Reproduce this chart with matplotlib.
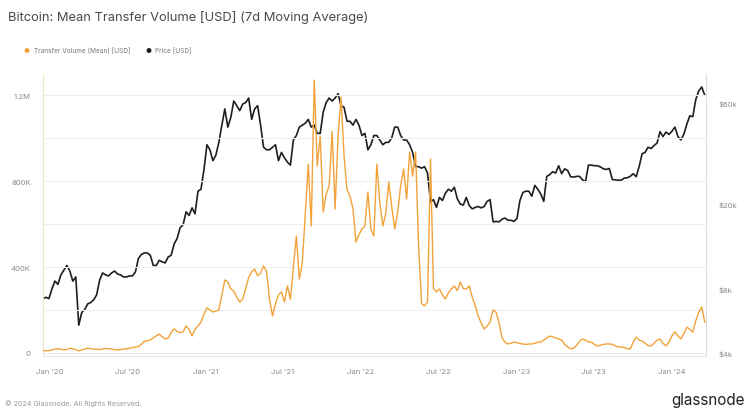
import numpy as np
import pandas as pd
import matplotlib
matplotlib.use("Agg")
import matplotlib.pyplot as plt
from matplotlib.ticker import FixedLocator, NullFormatter

# ── data (weekly) ─────────────────────────────────────────
START = "2019-12-16"

price_usd = [
    7200, 7300, 7200,
    # 2020
    8000, 8700, 8400, 9300, 9800, 10300, 9700, 8700, 9100, 5400, 6200, 6400, 6800,
    6900, 7100, 7500, 8800, 9500, 9300, 9200, 9500, 9700, 9400, 9300, 9100, 9100,
    9200, 9200, 9600, 11100, 11600, 11800, 11800, 11500, 10300, 10300, 10900, 10700,
    10600, 11300, 11500, 13000, 13800, 15500, 16000, 18400, 17700, 19200, 18000,
    23000, 23500, 29000,
    # 2021
    38000, 36000, 32000, 34000, 39000, 47000, 56000, 46000, 51000, 61000, 58000,
    55000, 59000, 60000, 63000, 50000, 56000, 58000, 47000, 37000, 36000, 36000,
    37000, 38000, 32000, 35000, 33000, 31500, 30500, 40000, 42000, 46000, 47000,
    48000, 50000, 46000, 47000, 43000, 43000, 54000, 60000, 63000, 61000, 63000,
    66000, 58000, 57000, 49000, 49000, 47000, 50000, 47000,
    # 2022
    42000, 43000, 36000, 38000, 42000, 42000, 40000, 38000, 39000, 39000, 41000,
    46000, 46000, 42000, 40000, 40000, 38000, 35000, 30000, 30000, 29500, 30000,
    28000, 20500, 21000, 19300, 21500, 20800, 22500, 23500, 23000, 24000, 21200,
    20000, 19800, 21500, 19700, 19000, 19300, 19500, 19200, 19500, 20600, 21000,
    16500, 16600, 16500, 17000, 17200, 16800, 16800, 16600,
    # 2023
    17100, 20800, 22700, 23000, 23000, 21800, 24500, 23500, 22300, 20600, 27000,
    27500, 28400, 28000, 30300, 27800, 29300, 28800, 26900, 26800, 27000, 27000,
    26000, 25500, 30500, 30500, 30300, 30300, 29900, 29300, 29100, 29400, 26100,
    26000, 25900, 25900, 26500, 26600, 27000, 27800, 26900, 30000, 34500, 35000,
    37000, 36500, 37700, 38700, 43800, 41500, 43600, 42500,
    # 2024
    44000, 46000, 41600, 40000, 42600, 47500, 52000, 51500, 62000, 68000, 71000, 65000,
]

transfer_volume_usd = [
    12e3, 10e3, 11e3, 14e3, 18e3, 20e3, 17e3, 15e3, 16e3, 22e3, 20e3, 15e3, 10e3,
    14e3, 18e3, 22e3, 20e3, 18e3, 17e3, 16e3, 19e3, 21e3, 20e3, 18e3, 15e3, 14e3,
    16e3, 18e3, 20e3, 22e3, 25e3, 28e3, 30e3, 40e3, 55e3,
    57e3, 60e3, 70e3, 80e3, 88e3, 75e3, 65e3, 70e3, 95e3, 112e3, 100e3, 95e3, 98e3,
    126e3, 110e3, 79e3, 110e3, 126e3, 144e3, 180e3, 210e3, 200e3, 191e3, 195e3,
    200e3, 270e3, 340e3, 330e3, 298e3, 288e3, 260e3, 237e3, 251e3, 300e3, 350e3,
    377e3, 391e3, 360e3, 370e3, 405e3, 380e3, 250e3, 172e3, 230e3, 270e3, 284e3,
    237e3, 312e3, 250e3, 400e3, 544e3, 344e3, 420e3, 650e3, 879e3, 591e3, 1270e3,
    870e3, 1010e3, 656e3, 740e3, 777e3, 1030e3, 670e3, 1010e3, 1190e3, 916e3,
    760e3, 730e3, 670e3, 516e3, 550e3, 577e3, 591e3, 749e3, 577e3, 544e3,
    879e3, 700e3, 591e3, 650e3, 795e3, 680e3, 577e3, 656e3, 780e3, 856e3, 716e3,
    935e3, 823e3, 935e3, 500e3, 230e3, 219e3, 237e3, 902e3, 300e3, 284e3, 298e3,
    270e3, 251e3, 280e3, 298e3, 312e3, 290e3, 330e3, 300e3, 298e3, 312e3, 260e3,
    220e3, 172e3, 140e3, 112e3, 125e3, 144e3, 200e3, 190e3, 140e3, 70e3, 50e3,
    42e3, 45e3, 51e3, 48e3, 44e3, 42e3, 40e3, 42e3, 42e3, 45e3, 50e3, 51e3, 60e3,
    70e3, 79e3, 75e3, 70e3, 65e3, 60e3, 40e3, 28e3, 20e3, 22e3, 35e3, 55e3, 65e3,
    60e3, 52e3, 50e3, 40e3, 33e3, 36e3, 40e3, 42e3, 42e3, 40e3, 33e3, 28e3, 28e3,
    25e3, 20e3, 19e3, 50e3, 74e3, 60e3, 56e3, 45e3, 35e3, 33e3, 45e3, 60e3, 65e3,
    45e3, 33e3, 50e3, 80e3, 98e3, 80e3, 65e3, 90e3, 120e3, 110e3, 98e3, 150e3,
    190e3, 214e3, 144e3,
]

dates = pd.date_range(START, periods=len(price_usd), freq="7D")

x_ticks = pd.to_datetime(["2020-01-01", "2020-07-01", "2021-01-01", "2021-07-01",
                          "2022-01-01", "2022-07-01", "2023-01-01", "2023-07-01",
                          "2024-01-01"])
x_labels = ["Jan '20", "Jul '20", "Jan '21", "Jul '21", "Jan '22",
            "Jul '22", "Jan '23", "Jul '23", "Jan '24"]

left_ticks = [0, 400e3, 800e3, 1.2e6]
left_labels = ["0", "400K", "800K", "1.2M"]
right_ticks = [4000, 8000, 20000, 60000]
right_labels = ["$4k", "$8k", "$20k", "$60k"]

# ── style ─────────────────────────────────────────────────
ORANGE = "#f2a23a"
BLACK = "#1e1e1e"
GREY = "#8a8a8a"
plt.rcParams["font.family"] = ["Inter", "DejaVu Sans"]

fig = plt.figure(figsize=(7.5, 4.14), dpi=100)
ax = fig.add_axes([43 / 750, 1 - 357 / 414, (706 - 43) / 750, (357 - 75) / 414])
ax2 = ax.twinx()

ax.plot(dates, transfer_volume_usd, color=ORANGE, linewidth=1.0, zorder=3)
ax2.plot(dates, price_usd, color=BLACK, linewidth=1.2, zorder=2)

# keep the orange on top
ax.set_zorder(ax2.get_zorder() + 1)
ax.patch.set_visible(False)

ax.set_xlim(dates[0], dates[-1] + pd.Timedelta(days=3))
ax.set_ylim(-14e3, 1.298e6)
ax2.set_yscale("log")
ax2.set_ylim(3870, 81700)

ax.set_xticks(x_ticks)
ax.set_xticklabels(x_labels)
ax.yaxis.set_major_locator(FixedLocator(left_ticks))
ax.set_yticklabels(left_labels)
ax.yaxis.set_minor_locator(FixedLocator([200e3, 600e3, 1.0e6]))
ax2.yaxis.set_major_locator(FixedLocator(right_ticks))
ax2.yaxis.set_minor_locator(FixedLocator([]))
ax2.yaxis.set_minor_formatter(NullFormatter())
ax2.set_yticklabels(right_labels)

ax.grid(True, which="both", axis="y", color="#efefef", linewidth=0.8)
ax.tick_params(axis="both", which="both", length=0, labelsize=5.5, colors=GREY)
ax.tick_params(axis="x", pad=9)
ax.tick_params(axis="y", pad=9)
ax2.tick_params(axis="y", which="both", length=0, labelsize=5.5, colors=GREY, pad=9)

for a in (ax, ax2):
    for s in a.spines.values():
        s.set_visible(False)
ax.spines["left"].set_visible(True)
ax.spines["left"].set_color("#eee3c8")
ax.spines["bottom"].set_visible(True)
ax.spines["bottom"].set_color("#e6e6e6")
ax2.spines["right"].set_visible(True)
ax2.spines["right"].set_color("#dcdcdc")

# ── texts ─────────────────────────────────────────────────
fig.text(8 / 750, 1 - 17 / 414, "Bitcoin: Mean Transfer Volume [USD] (7d Moving Average)",
         fontsize=9.3, color="#4a4a4a", va="center", ha="left")

fig.text(24 / 750, 1 - 51 / 414, "●", fontsize=4.8, color=ORANGE, va="center")
fig.text(34 / 750, 1 - 51 / 414, "Transfer Volume (Mean) [USD]", fontsize=4.7,
         color="#777777", va="center")
fig.text(145 / 750, 1 - 51 / 414, "●", fontsize=4.8, color=BLACK, va="center")
fig.text(155 / 750, 1 - 51 / 414, "Price [USD]", fontsize=4.7,
         color="#777777", va="center")

fig.text(5 / 750, 1 - 404 / 414, "© 2024 Glassnode. All Rights Reserved.",
         fontsize=5.2, color="#9a9a9a", va="center", ha="left")
fig.text(745 / 750, 1 - 401 / 414, "glassnode", fontsize=11, color="#222222",
         va="center", ha="right")

fig.savefig("out.png", dpi=100, facecolor="white")
